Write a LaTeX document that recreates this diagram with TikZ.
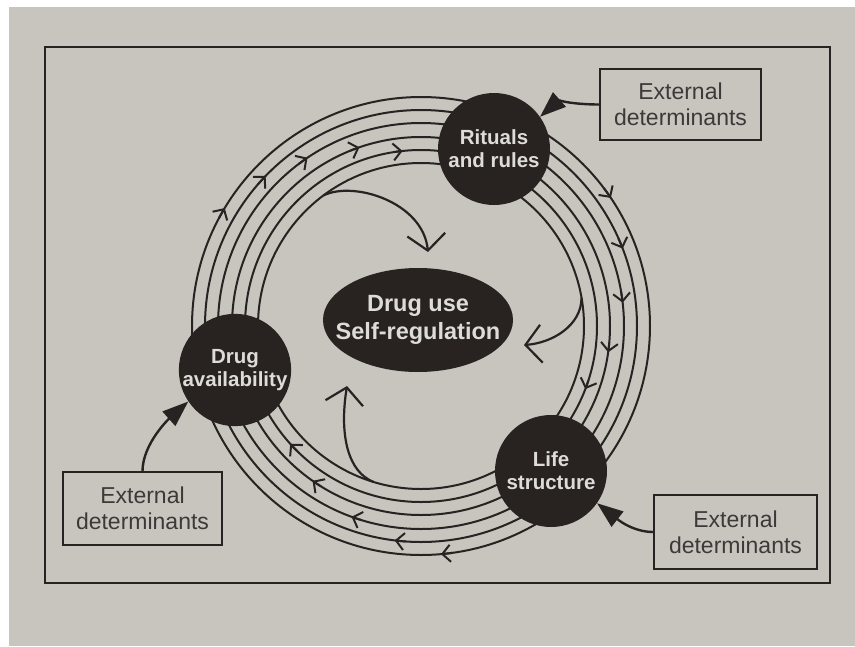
\documentclass[tikz,border=0pt]{standalone}
\usepackage{fontspec}
\setmainfont{Liberation Sans}
\usetikzlibrary{arrows.meta,shapes.geometric}
\definecolor{paper}{RGB}{200,196,190}
\definecolor{ink}{RGB}{38,36,35}
\definecolor{blob}{RGB}{40,34,32}
\definecolor{blobtext}{RGB}{222,220,215}
\newcommand\rtip[2]{\draw[ringtip] ([shift={(#1+3:#2pt)}]c) arc[start angle=#1+3, end angle=#1, radius=#2pt];}
\begin{document}
\begin{tikzpicture}[x=1pt,y=-1pt,
  ring/.style={draw=ink,line width=2pt},
  ringtip/.style={draw=ink,line width=2pt,-{Straight Barb[length=8pt,width=17pt]}},
  blobnode/.style={circle,fill=blob,minimum size=112pt,inner sep=0pt,text=blobtext,
    font=\fontsize{20.5}{23}\selectfont\bfseries,align=center},
  extbox/.style={draw=ink,line width=1.5pt,fill=paper,inner sep=0pt,align=center,
    text=ink!90,font=\fontsize{23}{26}\selectfont},
  fb/.style={draw=ink,line width=2.2pt,-{Straight Barb[length=16pt,width=38pt]}},
  ext/.style={draw=ink,line width=2.4pt,-{Triangle[length=26pt,width=19pt]}},
  frame/.style={draw=ink,line width=2pt}]
\useasboundingbox (0,0) rectangle (855,646);
\fill[paper] (0,0) rectangle (855,646);
\fill[white] (0,0) rectangle (855,7);
\fill[white] (0,0) rectangle (9,646);
\draw[frame] (45,47) rectangle (830,583);
% ring
\coordinate (c) at (421,326);
\foreach \r in {163,176,189,203,216,229} \draw[ring] (c) circle[radius=\r pt];
% ring arrowheads (clockwise)
\rtip{149}{229}\rtip{136}{216}\rtip{124}{203}\rtip{109}{189}\rtip{96}{176}
\rtip{34}{229}\rtip{21}{216}\rtip{6.6}{203}\rtip{-8}{189}\rtip{-21}{176}
\rtip{222}{176}\rtip{235}{189}\rtip{250}{203}\rtip{263}{216}\rtip{275}{229}
% nodes
\node[blobnode] (rit) at (494,149) {Rituals\\and rules};
\node[blobnode] (avail) at (235,370) {Drug\\availability};
\node[blobnode] (life) at (551,471) {Life\\structure};
\node[ellipse,fill=blob,minimum width=190pt,minimum height=104pt,inner sep=0pt,
  label={[text=blobtext,font=\fontsize{23.5}{28}\selectfont\bfseries,align=center]center:{Drug use\\Self-regulation}}] (drug) at (418,320) {};
% feedback arrows
\coordinate (f1) at ([shift={(126.8:163pt)}]c);
\coordinate (f2) at ([shift={(10:163pt)}]c);
\coordinate (f3) at ([shift={(253:163pt)}]c);
\coordinate (t1) at (428,252);
\coordinate (t2) at (524,345);
\coordinate (t3) at (347,386);
\draw[fb] (f1) .. controls +(30pt,15pt) and +(-5pt,50pt) .. (t1);
\draw[fb] (f2) .. controls +(0pt,-28pt) and +(28pt,2pt) .. (t2);
\draw[fb] (f3) .. controls +(-25pt,10pt) and +(-8pt,-50pt) .. (t3);
% external determinants
\node[extbox,minimum width=161pt,minimum height=71pt] (e1) at (680.5,104.5) {External\\determinants};
\node[extbox,minimum width=159pt,minimum height=73pt] (e2) at (142.5,508.5) {External\\determinants};
\node[extbox,minimum width=163pt,minimum height=74pt] (e3) at (735.5,532) {External\\determinants};
\draw[ext] (e1.west) .. controls +(-25pt,0pt) and +(18pt,16pt) .. (rit.35);
\draw[ext] (e2.north) .. controls +(0pt,28pt) and +(-18pt,-16pt) .. (avail.214);
\draw[ext] (e3.west) .. controls +(-22pt,0pt) and +(18pt,-14pt) .. (life.-35);
\end{tikzpicture}
\end{document}
